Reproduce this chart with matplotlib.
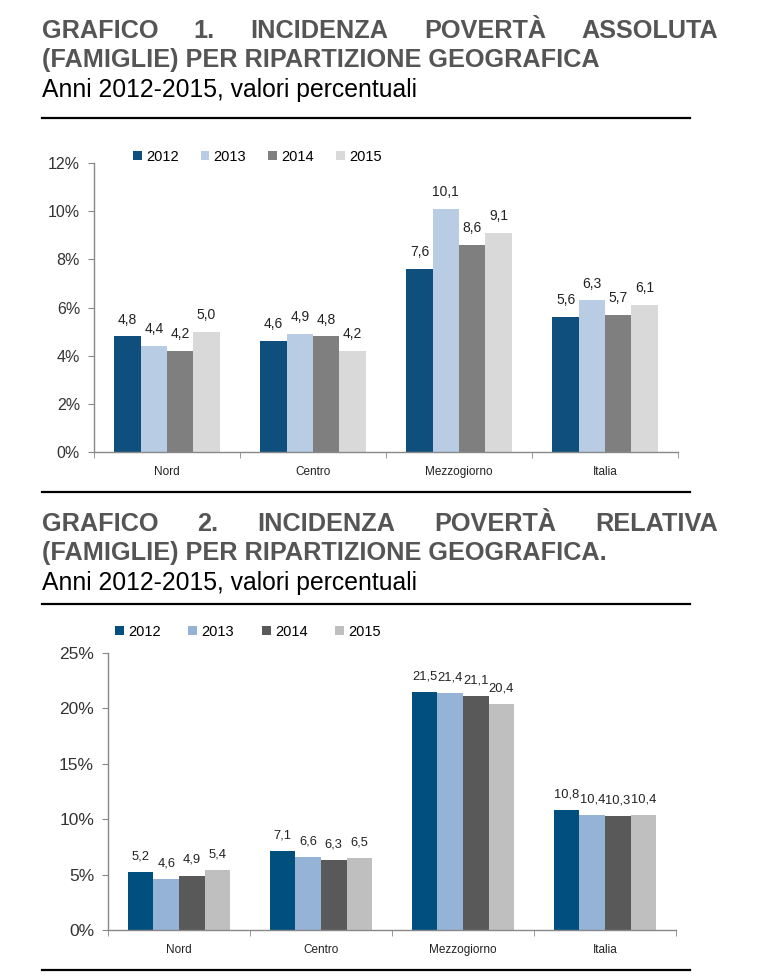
import matplotlib
matplotlib.use("Agg")
import matplotlib.pyplot as plt
from matplotlib.lines import Line2D
from matplotlib import font_manager as fm
import numpy as np

categories = ["Nord", "Centro", "Mezzogiorno", "Italia"]
years = ["2012", "2013", "2014", "2015"]

abs_2012 = [4.8, 4.6, 7.6, 5.6]
abs_2013 = [4.4, 4.9, 10.1, 6.3]
abs_2014 = [4.2, 4.8, 8.6, 5.7]
abs_2015 = [5.0, 4.2, 9.1, 6.1]

rel_2012 = [5.2, 7.1, 21.5, 10.8]
rel_2013 = [4.6, 6.6, 21.4, 10.4]
rel_2014 = [4.9, 6.3, 21.1, 10.3]
rel_2015 = [5.4, 6.5, 20.4, 10.4]

title1_words = ["GRAFICO", "1.", "INCIDENZA", "POVERTÀ", "ASSOLUTA"]
title1_line2 = "(FAMIGLIE) PER RIPARTIZIONE GEOGRAFICA"
title2_words = ["GRAFICO", "2.", "INCIDENZA", "POVERTÀ", "RELATIVA"]
title2_line2 = "(FAMIGLIE) PER RIPARTIZIONE GEOGRAFICA."
subtitle = "Anni 2012-2015, valori percentuali"

colors1 = ["#0f4f7e", "#b8cce4", "#7f7f7f", "#d9d9d9"]
colors2 = ["#004f7f", "#95b3d7", "#595959", "#bfbfbf"]

names = {f.name for f in fm.fontManager.ttflist}
narrow = "Liberation Sans Narrow" if "Liberation Sans Narrow" in names else "Liberation Sans"
plt.rcParams["font.family"] = ["Liberation Sans", "DejaVu Sans"]

W, H = 767, 977
fig = plt.figure(figsize=(W / 100, H / 100), dpi=100)

def fx(px):
    return px / W

def fy(py):
    return 1 - py / H

title_color = "#555555"
TFS = 18.2

def justified(words, y, left=42, right=718):
    texts = [fig.text(0, fy(y), w, fontsize=TFS, fontweight="bold", color=title_color,
                      va="center", ha="left") for w in words]
    fig.canvas.draw()
    r = fig.canvas.get_renderer()
    widths = [t.get_window_extent(r).width for t in texts]
    gap = (right - left - sum(widths)) / (len(words) - 1)
    x = left
    for t, w in zip(texts, widths):
        t.set_x(fx(x))
        x += w + gap

def header(words, line2, y0):
    justified(words, y0)
    fig.text(fx(42), fy(y0 + 29), line2, fontsize=TFS, fontweight="bold", color=title_color,
             va="center", ha="left")
    fig.text(fx(42), fy(y0 + 59), subtitle, fontsize=17.8, color="black",
             va="center", ha="left")

def hline(y):
    fig.add_artist(Line2D([fx(42), fx(690)], [fy(y), fy(y)], color="black", lw=1.6))

header(title1_words, title1_line2, 31)
hline(118)
hline(492)
header(title2_words, title2_line2, 524)
hline(604)
hline(970)

def chart(rect, series, colors, ymax, ystep, legend_y, legend_x, tick_fs, colsp, lab_fs):
    ax = fig.add_axes(rect)
    x = np.arange(len(categories))
    bw = 0.18
    handles = []
    for i, (vals, c) in enumerate(zip(series, colors)):
        pos = x + (i - 1.5) * bw
        b = ax.bar(pos, vals, width=bw, color=c, label=years[i], zorder=2)
        handles.append(b)
        for px_, v in zip(pos, vals):
            ax.annotate(f"{v:.1f}".replace(".", ","), (px_, v), xytext=(0, 7),
                        textcoords="offset points", ha="center", va="bottom",
                        fontsize=lab_fs, family=[narrow, "DejaVu Sans"], color="#222222")
    ax.set_xlim(-0.5, len(categories) - 0.5)
    ax.set_ylim(0, ymax)
    yt = np.arange(0, ymax + 0.001, ystep)
    ax.set_yticks(yt)
    ax.set_yticklabels([f"{int(v)}%" for v in yt], fontsize=tick_fs, color="#333333")
    ax.set_xticks(x)
    ax.set_xticklabels(categories, fontsize=8.5, family=[narrow, "DejaVu Sans"], color="#222222")
    ax.tick_params(axis="x", length=0, pad=10)
    ax.set_xticks(np.arange(-0.5, len(categories) + 0.5, 1), minor=True)
    ax.tick_params(axis="x", which="minor", length=4, color="#888888")
    ax.tick_params(axis="y", length=4, color="#888888", pad=6)
    for s in ["top", "right"]:
        ax.spines[s].set_visible(False)
    for s in ["left", "bottom"]:
        ax.spines[s].set_color("#888888")
        ax.spines[s].set_linewidth(1.0)
    fig.legend(handles=handles, labels=years, loc="center left",
               bbox_to_anchor=(fx(legend_x), fy(legend_y)), ncol=4, frameon=False,
               handlelength=0.6, handleheight=0.6, handletextpad=0.3,
               columnspacing=colsp, borderpad=0, borderaxespad=0,
               prop={"family": narrow, "size": 10.5})
    return ax

chart([fx(94), fy(452), fx(678) - fx(94), fy(163) - fy(452)],
      [abs_2012, abs_2013, abs_2014, abs_2015], colors1, 12, 2, 157, 133, 11.5, 1.5, 10)
chart([fx(108), fy(930), fx(676) - fx(108), fy(653) - fy(930)],
      [rel_2012, rel_2013, rel_2014, rel_2015], colors2, 25, 5, 632, 115, 12.5, 1.9, 9.3)

fig.savefig("out.png", dpi=100)
